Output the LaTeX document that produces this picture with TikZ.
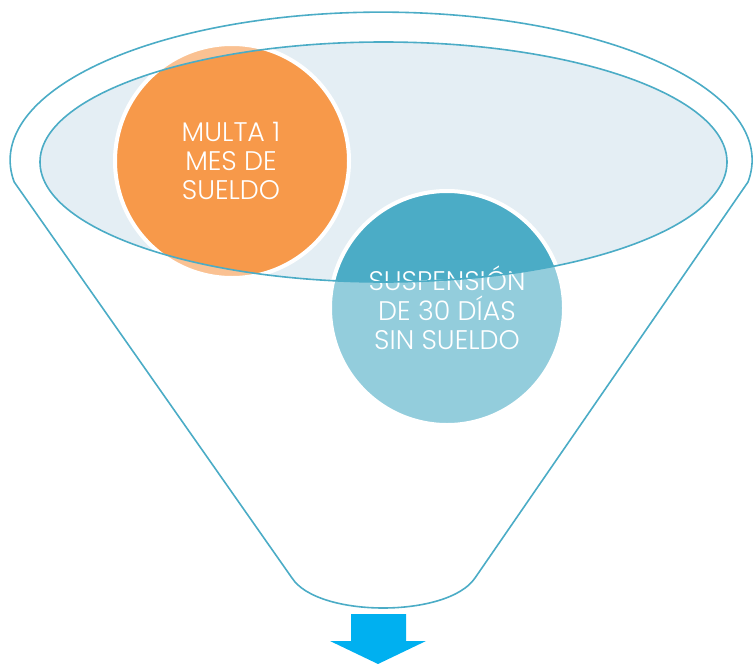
\documentclass[tikz,border=0pt]{standalone}
\usepackage{fontspec}
\setmainfont{Poppins}[UprightFont=* Light]
\definecolor{funnel}{HTML}{4BACC6}
\definecolor{innerfill}{HTML}{E4EEF4}
\definecolor{orangec}{HTML}{F7994A}
\definecolor{bluec}{HTML}{4BACC6}
\definecolor{arrowc}{HTML}{00B0F0}
\begin{document}
\begin{tikzpicture}[x=1bp,y=-1bp,
  edge/.style={draw=funnel,line width=1.6bp},
  bubble/.style={circle,draw=white,line width=4bp,minimum size=234bp,inner sep=0pt},
  label/.style={text=white,font=\fontsize{27}{29.5}\selectfont,align=center}]
\useasboundingbox (0,0) rectangle (753,664);
% inner ellipse fill
\fill[innerfill] (383.5,162) ellipse [x radius=343.5, y radius=120];
% circles
\node[bubble,fill=orangec] (multa) at (232,161) {};
\node[bubble,fill=bluec] (susp) at (447,308) {};
\node[label] (tmulta) at (231,161) {MULTA 1\\MES DE\\SUELDO};
\node[label] (tsusp) at (447,308) {SUSPENSIÓN\\DE 30 DÍAS\\SIN SUELDO};
% funnel body overlay
\coordinate (lc) at (14,182);
\coordinate (rc) at (748,182);
\coordinate (bl) at (292,578);
\coordinate (br) at (475,578);
\fill[white,fill opacity=0.4,even odd rule]
  (rc) arc[start angle=-8.5,end angle=188.5,x radius=371,y radius=-148]
  -- (bl) .. controls (318,618) and (448,618) .. (br) -- cycle
  (383.5,162) ellipse [x radius=343.5, y radius=120];
% outlines
\draw[edge,line join=round]
  (rc) arc[start angle=-8.5,end angle=188.5,x radius=371,y radius=-148]
  -- (bl) .. controls (318,618) and (448,618) .. (br) -- cycle;
\draw[edge] (383.5,162) ellipse [x radius=343.5, y radius=120];
% arrow
\fill[arrowc] (351,614) -- (406,614) -- (406,641) -- (426,641) -- (378,664) -- (330,641) -- (351,641) -- cycle;
\end{tikzpicture}
\end{document}
